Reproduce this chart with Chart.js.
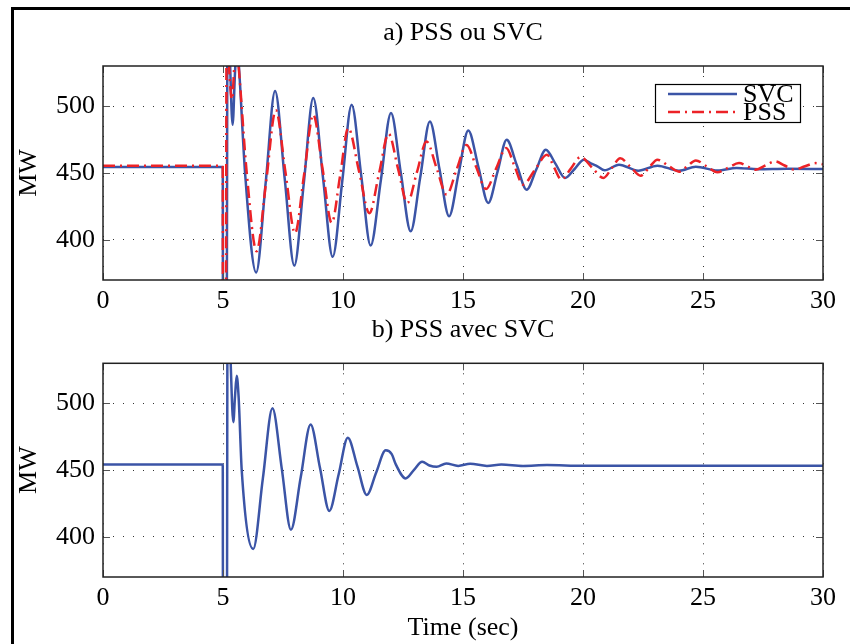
<!DOCTYPE html>
<html>
<head>
<meta charset="utf-8">
<script src="https://cdn.jsdelivr.net/npm/chart.js@4/dist/chart.umd.min.js"></script>
<style>
  html, body { margin: 0; padding: 0; background: #fff; }
  body { width: 850px; height: 644px; position: relative; overflow: hidden; }
  canvas { position: absolute; left: 0; top: 0; }
  #frame { position: absolute; left: 11px; top: 7px; width: 850px; height: 650px;
           border-top: 3px solid #000; border-left: 3px solid #000; }
</style>
</head>
<body>
<div id="frame"></div>
<canvas id="c1" width="850" height="644"></canvas>
<canvas id="c2" width="850" height="644"></canvas>
<script>
// ---- data ----
const titleA = "a) PSS ou SVC";
const titleB = "b) PSS avec SVC";
const yTitle = "MW";
const xTitle = "Time (sec)";
const xTicks = [0, 5, 10, 15, 20, 25, 30];
const yTicks = [400, 450, 500];
const yRange = [370, 530];
const xRange = [0, 30];

// plot a) SVC
const svcT = [0, 4.99, 5.0, 5.15, 5.19, 5.28, 5.4, 5.5, 5.58, 5.68, 5.92, 6.38, 6.78, 7.17, 7.57, 7.97, 8.37, 8.76, 9.17, 9.57, 9.97, 10.36, 10.76, 11.15, 11.58, 12.0, 12.41, 12.82, 13.22, 13.62, 14.02, 14.42, 14.82, 15.22, 15.64, 16.05, 16.44, 16.82, 17.24, 17.65, 18.05, 18.45, 18.85, 19.25, 19.65, 20.04, 20.35, 20.6, 20.9, 21.5, 22.3, 23.1, 24.0, 24.7, 25.6, 26.4, 27.3, 28.5, 30];
const svcV = [454.5, 454.5, 300, 300, 590, 540, 486, 525, 548, 525, 450, 375.6, 443, 511.4, 446, 380.8, 443, 506, 446, 387.3, 444, 501, 448, 395.8, 445, 494.8, 450, 406.4, 447, 488.5, 453, 417.6, 450, 481.8, 454.7, 427.6, 451, 474.8, 456, 437.5, 452.5, 467.4, 457, 446.3, 453, 460, 457, 455, 452, 456.2, 451.7, 455.5, 451.7, 454.6, 451.9, 453.8, 452.8, 453.2, 453];

// plot a) PSS
const pssT = [0, 4.99, 5.0, 5.12, 5.15, 5.25, 5.38, 5.47, 5.55, 5.65, 5.99, 6.4, 6.8, 7.2, 7.6, 8.0, 8.38, 8.76, 9.15, 9.53, 9.88, 10.22, 10.66, 11.1, 11.5, 11.9, 12.29, 12.68, 13.08, 13.48, 13.9, 14.32, 14.73, 15.15, 15.55, 15.96, 16.38, 16.8, 17.15, 17.5, 18.0, 18.5, 18.8, 19.1, 19.5, 19.9, 20.38, 20.85, 21.2, 21.55, 21.98, 22.4, 22.75, 23.1, 23.55, 24.0, 24.35, 24.7, 25.15, 25.6, 26.05, 26.5, 26.85, 27.2, 27.6, 28.0, 28.4, 28.8, 29.25, 29.7, 30];
const pssV = [455.4, 455.4, 300, 300, 580, 530, 505, 530, 548, 530, 450, 391.5, 444, 497, 451, 405, 449, 493.5, 453, 412.7, 448, 483.6, 452, 420, 449.6, 479.3, 453.5, 427.6, 450.6, 473.6, 453.7, 433.8, 452.4, 471, 454.5, 438, 453.3, 468.6, 455, 441.3, 452.5, 463.7, 454, 445, 453.5, 462, 454, 446.3, 453.6, 461, 454.5, 448, 454, 460, 455.5, 451, 455.2, 459.4, 455, 450.5, 454, 457.4, 455, 452.5, 455.6, 458.7, 455.6, 452.5, 455, 457.4, 456.5];

// plot b) PSS with SVC
const bothT = [0, 4.99, 5.0, 5.16, 5.19, 5.3, 5.43, 5.5, 5.57, 5.65, 5.78, 6.26, 6.66, 7.06, 7.45, 7.83, 8.24, 8.65, 9.04, 9.43, 9.82, 10.2, 10.6, 10.99, 11.38, 11.78, 12.03, 12.2, 12.61, 12.95, 13.3, 13.6, 13.9, 14.3, 14.8, 15.3, 16.0, 16.6, 17.5, 18.5, 20.0, 30];
const bothV = [454.2, 454.2, 300, 300, 590, 540, 485.9, 505, 520.6, 505, 450, 391, 443.6, 496.3, 451, 405.4, 444.8, 484.2, 451.8, 419.5, 446.9, 474.3, 452.8, 431.4, 448.1, 464.9, 462, 454.3, 443.8, 450, 456.2, 453.5, 452.5, 455, 453.2, 454.8, 453.2, 454.2, 453.2, 453.8, 453.3, 453.3];

const BLUE = '#3b54a6';
const RED = '#ec2227';
const FONT = "'Liberation Serif', 'Times New Roman', serif";
const FS = 26;

function pts(t, v) { return t.map((x, i) => ({ x: x, y: v[i] })); }

// centre the chart title over the plot area (like MATLAB)
const titleCenter = {
  id: 'titleCenter',
  afterLayout(chart) {
    const tb = chart.titleBlock;
    if (tb) {
      tb.left = chart.chartArea.left;
      tb.right = chart.chartArea.right;
      tb.width = tb.right - tb.left;
    }
  }
};

// inward ticks + box + optional legend
const boxPlugin = {
  id: 'boxPlugin',
  afterDatasetsDraw(chart) {
    const { ctx, chartArea: a, scales } = chart;
    ctx.save();
    ctx.strokeStyle = '#555';
    ctx.lineWidth = 1;
    ctx.setLineDash([]);
    const L = 7;
    scales.x.ticks.forEach(tk => {
      const px = Math.round(scales.x.getPixelForValue(tk.value)) + 0.5;
      ctx.beginPath();
      ctx.moveTo(px, a.bottom); ctx.lineTo(px, a.bottom - L);
      ctx.moveTo(px, a.top); ctx.lineTo(px, a.top + L);
      ctx.stroke();
    });
    scales.y.ticks.forEach(tk => {
      const py = Math.round(scales.y.getPixelForValue(tk.value)) + 0.5;
      ctx.beginPath();
      ctx.moveTo(a.left, py); ctx.lineTo(a.left + L, py);
      ctx.moveTo(a.right, py); ctx.lineTo(a.right - L, py);
      ctx.stroke();
    });
    ctx.strokeStyle = '#222';
    ctx.lineWidth = 1.5;
    ctx.strokeRect(a.left, a.top, a.right - a.left, a.bottom - a.top);

    const lg = chart.options.plugins.boxPlugin;
    if (lg && lg.legend) {
      const bx = a.right - 168, by = a.top + 18, bw = 145, bh = 38;
      ctx.fillStyle = '#fff';
      ctx.fillRect(bx, by, bw, bh);
      ctx.strokeStyle = '#000';
      ctx.lineWidth = 1.2;
      ctx.strokeRect(bx + 0.5, by + 0.5, bw, bh);
      ctx.font = FS + "px " + FONT;
      ctx.textBaseline = 'middle';
      ctx.textAlign = 'left';
      const rows = [by + 10, by + 28];
      chart.data.datasets.forEach((ds, i) => {
        ctx.strokeStyle = ds.borderColor;
        ctx.lineWidth = ds.borderWidth;
        ctx.setLineDash(ds.borderDash || []);
        ctx.beginPath();
        ctx.moveTo(bx + 13, rows[i]); ctx.lineTo(bx + 82, rows[i]);
        ctx.stroke();
        ctx.setLineDash([]);
        ctx.fillStyle = '#000';
        ctx.fillText(ds.label, bx + 88, rows[i] + 1);
      });
    }
    ctx.restore();
  }
};

function makeChart(id, title, datasets, opts) {
  return new Chart(document.getElementById(id), {
    type: 'line',
    data: { datasets: datasets },
    plugins: [titleCenter, boxPlugin],
    options: {
      responsive: false,
      devicePixelRatio: 1,
      animation: false,
      events: [],
      layout: { padding: { left: 0, right: 27, top: opts.padTop, bottom: opts.padBottom } },
      elements: { point: { radius: 0 }, line: { cubicInterpolationMode: 'monotone' } },
      plugins: {
        legend: { display: false },
        tooltip: { enabled: false },
        title: {
          display: true, text: title, color: '#000',
          font: { family: FONT, size: FS, weight: 'normal' },
          padding: { top: opts.titlePadTop, bottom: opts.titlePadBottom }
        },
        boxPlugin: { legend: opts.legend }
      },
      scales: {
        x: {
          type: 'linear', min: xRange[0], max: xRange[1],
          afterBuildTicks: s => { s.ticks = xTicks.map(v => ({ value: v })); },
          afterFit: s => { s.height = opts.xHeight; },
          ticks: { color: '#000', padding: 6, font: { family: FONT, size: FS }, maxRotation: 0, autoSkip: false },
          grid: { color: '#333', lineWidth: 1, drawTicks: false },
          border: { display: false, dash: [1, 9] },
          title: opts.xTitle ? { display: true, text: xTitle, color: '#000', font: { family: FONT, size: FS }, padding: { top: 0, bottom: 0.4 } } : { display: false }
        },
        y: {
          type: 'linear', min: yRange[0], max: yRange[1],
          afterBuildTicks: s => { s.ticks = yTicks.map(v => ({ value: v })); },
          afterFit: s => { s.width = 103; },
          ticks: { color: '#000', padding: 8, font: { family: FONT, size: FS } },
          grid: { color: '#333', lineWidth: 1, drawTicks: false },
          border: { display: false, dash: [1, 9] },
          title: { display: true, text: yTitle, color: '#000', font: { family: FONT, size: FS }, padding: { top: 13.4, bottom: 0 } }
        }
      }
    }
  });
}

makeChart('c1', titleA, [
  { label: 'SVC', data: pts(svcT, svcV), borderColor: BLUE, borderWidth: 2.5, fill: false, order: 1 },
  { label: 'PSS', data: pts(pssT, pssV), borderColor: RED, borderWidth: 2.5, borderDash: [12, 5, 2, 5], fill: false, order: 0 }
], { padTop: 0, padBottom: 644 - 280 - 40, titlePadTop: 17.4, titlePadBottom: 17.4, xHeight: 40, legend: true, xTitle: false });

makeChart('c2', titleB, [
  { label: 'PSS+SVC', data: pts(bothT, bothV), borderColor: BLUE, borderWidth: 2.5, fill: false }
], { padTop: 300, padBottom: 0, titlePadTop: 14.4, titlePadBottom: 17.7, xHeight: 67, legend: false, xTitle: true });
</script>
</body>
</html>
